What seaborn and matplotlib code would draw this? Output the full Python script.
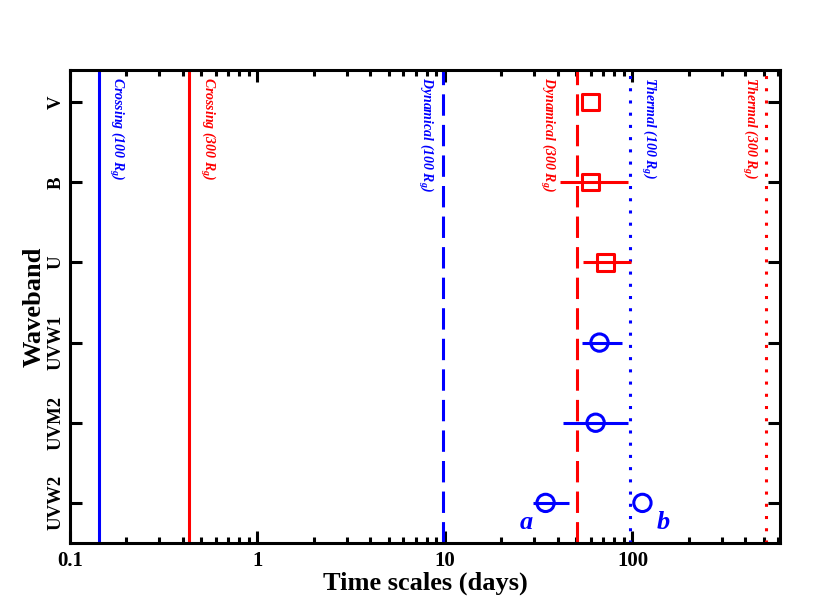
import numpy as np
import pandas as pd
import matplotlib
matplotlib.use("Agg")
import matplotlib.pyplot as plt
import seaborn as sns
from matplotlib.ticker import LogLocator, FixedLocator, NullLocator

# Wavebands, bottom to top
bands = ["UVW2", "UVM2", "UVW1", "U", "B", "V"]
groups = ["UV", "UV", "UV", "optical", "optical", "optical"]
lag = [34.4, 63.6, 66.7, 71.9, 59.8, 59.8]
lag_lo = [29.4, 42.4, 53.6, 54.2, 40.9, np.nan]
lag_hi = [45.7, 95.2, 87.4, 97.6, 94.1, np.nan]

# second UVW2 component (b)
lag_b = [113.0]
band_b = ["UVW2"]

# characteristic time scales (days) for 100 and 300 Rg
scale_names = ["Crossing", "Crossing", "Dynamical", "Dynamical", "Thermal", "Thermal"]
scale_rg = [100, 300, 100, 300, 100, 300]
scale_days = [0.143, 0.431, 9.8, 50.6, 97.5, 515.0]

df = pd.DataFrame({"band": bands, "group": groups, "lag": lag,
                   "lo": lag_lo, "hi": lag_hi})
df["pos"] = df["band"].map({b: i for i, b in enumerate(bands)})
dfb = pd.DataFrame({"band": band_b, "lag": lag_b})
dfb["pos"] = dfb["band"].map({b: i for i, b in enumerate(bands)})

sns.set_style("ticks")
plt.rcParams["font.family"] = ["Liberation Serif", "DejaVu Serif"]
plt.rcParams["font.weight"] = "bold"
plt.rcParams["text.color"] = "black"
plt.rcParams["axes.labelcolor"] = "black"
plt.rcParams["xtick.color"] = "black"
plt.rcParams["ytick.color"] = "black"
plt.rcParams["mathtext.fontset"] = "custom"
plt.rcParams["mathtext.rm"] = "Liberation Serif:bold"
plt.rcParams["mathtext.it"] = "Liberation Serif:italic:bold"

fig = plt.figure(figsize=(8.13, 5.98), dpi=100)
ax = fig.add_axes([0.0861, 0.092, 0.8733, 0.7909])

col = {100: "#0000FF", 300: "#FF0000"}
styles = {"Crossing": "-", "Dynamical": (0, (7, 3)), "Thermal": (0, (1, 3))}
# label offset from its line, in points (left edge of the rotated label)
label_off = [6, 6.5, -20, -28, 6.5, -19]
for name, rg, t, off in zip(scale_names, scale_rg, scale_days, label_off):
    ax.axvline(t, color=col[rg], lw=2.2, ls=styles[name], zorder=1)
    ax.annotate(f"{name} ({rg} $R_g$)", xy=(t, 1), xycoords=("data", "axes fraction"),
                xytext=(off, -5), textcoords="offset points", rotation=270,
                ha="left", va="top", fontsize=10, style="italic", fontweight="bold",
                color=col[rg])

# error bars
for _, r in df.iterrows():
    c = "#0000FF" if r["group"] == "UV" else "#FF0000"
    if not np.isnan(r["lo"]):
        ax.errorbar(r["lag"], r["pos"], xerr=[[r["lag"] - r["lo"]], [r["hi"] - r["lag"]]],
                    fmt="none", ecolor=c, elinewidth=2.2, capsize=0, zorder=2)

uv = df[df["group"] == "UV"]
opt = df[df["group"] == "optical"]
sns.scatterplot(data=uv, x="lag", y="pos", marker="o", s=155, color="#0000FF",
                facecolors="none", edgecolor="#0000FF", linewidth=2.2, ax=ax, zorder=3)
sns.scatterplot(data=dfb, x="lag", y="pos", marker="o", s=155, color="#0000FF",
                facecolors="none", edgecolor="#0000FF", linewidth=2.2, ax=ax, zorder=3)
sns.scatterplot(data=opt, x="lag", y="pos", marker="s", s=140, color="#FF0000",
                facecolors="none", edgecolor="#FF0000", linewidth=2.2, ax=ax, zorder=3)

ax.text(27.2, -0.25, "a", color="#0000FF", fontsize=19, style="italic",
        fontweight="bold", ha="center", va="center")
ax.text(146, -0.25, "b", color="#0000FF", fontsize=19, style="italic",
        fontweight="bold", ha="center", va="center")

ax.set_xscale("log")
ax.set_xlim(0.1, 612)
ax.set_ylim(-0.5, 5.4)
ax.xaxis.set_major_locator(FixedLocator([0.1, 1, 10, 100]))
ax.set_xticklabels(["0.1", "1", "10", "100"])
ax.xaxis.set_minor_locator(LogLocator(base=10, subs=np.arange(2, 10)))
ax.xaxis.set_minor_formatter(plt.NullFormatter())
ax.set_yticks(range(len(bands)))
ax.set_yticklabels(bands, rotation=90, va="center")
ax.yaxis.set_minor_locator(NullLocator())

ax.tick_params(which="both", direction="in", top=True, right=True, width=2.2)
ax.tick_params(which="major", length=8.6)
ax.tick_params(which="minor", length=4.3)
ax.tick_params(axis="x", labelsize=15, pad=6)
ax.tick_params(axis="y", labelsize=13.5, pad=4)
for lbl in ax.get_xticklabels() + ax.get_yticklabels():
    lbl.set_fontweight("bold")
for s in ax.spines.values():
    s.set_linewidth(2.2)
    s.set_color("black")

ax.set_xlabel("Time scales (days)", fontsize=19, fontweight="bold", labelpad=0)
ax.set_ylabel("Waveband", fontsize=19, fontweight="bold", labelpad=1)

fig.savefig("out.png", dpi=100)
